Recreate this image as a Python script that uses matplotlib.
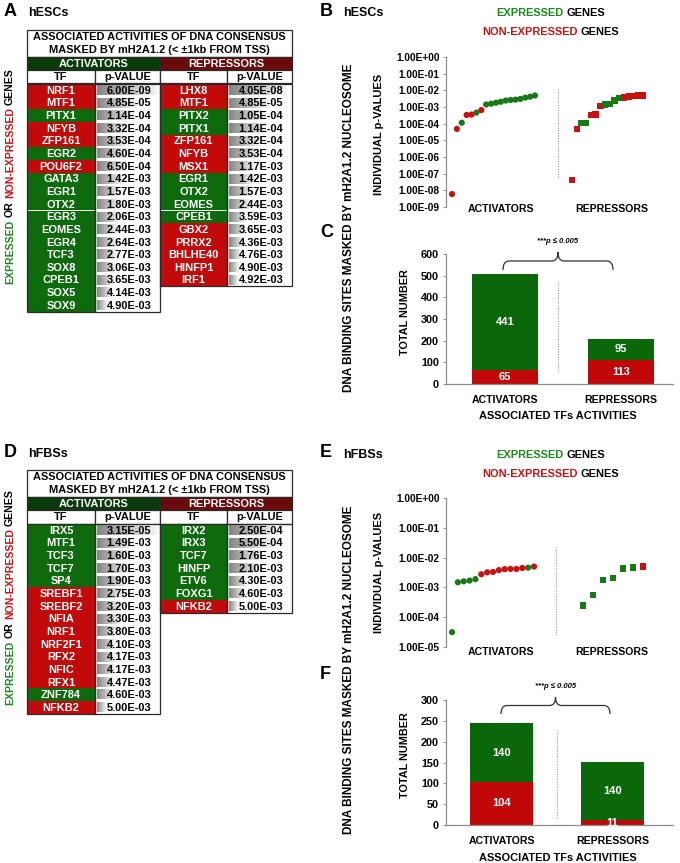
import numpy as np
import matplotlib
matplotlib.use("Agg")
import matplotlib.pyplot as plt
from matplotlib.patches import Rectangle, PathPatch
from matplotlib.path import Path
from matplotlib.colors import LinearSegmentedColormap
from matplotlib.ticker import NullLocator

plt.rcParams['font.family'] = ['Liberation Sans', 'DejaVu Sans']
plt.rcParams['font.weight'] = 'bold'

# ---------------- data ----------------
hesc_act_tf = ["NRF1", "MTF1", "PITX1", "NFYB", "ZFP161", "EGR2", "POU6F2", "GATA3", "EGR1",
               "OTX2", "EGR3", "EOMES", "EGR4", "TCF3", "SOX8", "CPEB1", "SOX5", "SOX9"]
hesc_act_p = [6.00e-09, 4.85e-05, 1.14e-04, 3.32e-04, 3.53e-04, 4.60e-04, 6.50e-04, 1.42e-03, 1.57e-03,
              1.80e-03, 2.06e-03, 2.44e-03, 2.64e-03, 2.77e-03, 3.06e-03, 3.65e-03, 4.14e-03, 4.90e-03]
hesc_act_expr = ["N", "N", "E", "N", "N", "E", "N", "E", "E", "E", "E", "E", "E", "E", "E", "E", "E", "E"]

hesc_rep_tf = ["LHX8", "MTF1", "PITX2", "PITX1", "ZFP161", "NFYB", "MSX1", "EGR1", "OTX2", "EOMES",
               "CPEB1", "GBX2", "PRRX2", "BHLHE40", "HINFP1", "IRF1"]
hesc_rep_p = [4.05e-08, 4.85e-05, 1.05e-04, 1.14e-04, 3.32e-04, 3.53e-04, 1.17e-03, 1.42e-03, 1.57e-03,
              2.44e-03, 3.59e-03, 3.65e-03, 4.36e-03, 4.76e-03, 4.90e-03, 4.92e-03]
hesc_rep_expr = ["N", "N", "E", "E", "N", "N", "N", "E", "E", "E", "E", "N", "N", "N", "N", "N"]

hfbs_act_tf = ["IRX5", "MTF1", "TCF3", "TCF7", "SP4", "SREBF1", "SREBF2", "NFIA", "NRF1", "NRF2F1",
               "RFX2", "NFIC", "RFX1", "ZNF784", "NFKB2"]
hfbs_act_p = [3.15e-05, 1.49e-03, 1.60e-03, 1.70e-03, 1.90e-03, 2.75e-03, 3.20e-03, 3.30e-03, 3.80e-03,
              4.10e-03, 4.17e-03, 4.17e-03, 4.47e-03, 4.60e-03, 5.00e-03]
hfbs_act_expr = ["E", "E", "E", "E", "E", "N", "N", "N", "N", "N", "N", "N", "N", "E", "N"]

hfbs_rep_tf = ["IRX2", "IRX3", "TCF7", "HINFP", "ETV6", "FOXG1", "NFKB2"]
hfbs_rep_p = [2.50e-04, 5.50e-04, 1.76e-03, 2.10e-03, 4.30e-03, 4.60e-03, 5.00e-03]
hfbs_rep_expr = ["E", "E", "E", "E", "E", "E", "N"]

bar_categories = ["ACTIVATORS", "REPRESSORS"]
hesc_bar_nonexpr = [65, 113]
hesc_bar_expr = [441, 95]
hfbs_bar_nonexpr = [104, 11]
hfbs_bar_expr = [140, 140]

hesc_scatter_yticks = [1e-09, 1e-08, 1e-07, 1e-06, 1e-05, 1e-04, 1e-03, 1e-02, 1e-01, 1e+00]
hfbs_scatter_yticks = [1e-05, 1e-04, 1e-03, 1e-02, 1e-01, 1e+00]
hesc_bar_yticks = [0, 100, 200, 300, 400, 500, 600]
hfbs_bar_yticks = [0, 50, 100, 150, 200, 250, 300]

# ---------------- styles ----------------
W, H = 680, 863
CELL_G, CELL_R = "#0d6a0d", "#c20a0a"
HDR_G, HDR_R = "#0a3a0a", "#6c0b0b"
PT_G, PT_R = "#177a17", "#c81212"
BAR_G, BAR_R = "#0a680a", "#c10808"
TXT_G, TXT_R = "#1a8a1a", "#d01010"
EDGE = "#2a2a2a"
GRAY = "#8c8c8c"
FS_CELL = 7.9

fig = plt.figure(figsize=(W / 100, H / 100), dpi=100)
fig.patch.set_facecolor("white")
ov = fig.add_axes([0, 0, 1, 1])
ov.set_xlim(0, W)
ov.set_ylim(H, 0)
ov.axis("off")
R = fig.canvas.get_renderer()


def px_axes(x0, x1, y0, y1):
    return fig.add_axes([x0 / W, 1 - y1 / H, (x1 - x0) / W, (y1 - y0) / H], facecolor="none")


def measure(s, **kw):
    t = ov.text(0, 0, s, **kw)
    w = t.get_window_extent(renderer=R).width
    t.remove()
    return w


def multicolor(x, y, parts, size, vertical=False):
    kw = dict(fontsize=size, fontweight="bold")
    full = "".join(p for p, _ in parts)
    total = measure(full, **kw)
    prefix = ""
    for s, c in parts:
        prefix += s
        st = measure(prefix.rstrip(), **kw) - measure(s.strip(), **kw)
        if not s.strip():
            continue
        if vertical:
            ov.text(x, y + total / 2 - st, s.strip(), color=c, rotation=90, rotation_mode="anchor",
                    ha="left", va="center", **kw)
        else:
            ov.text(x - total / 2 + st, y, s.strip(), color=c, ha="left", va="center", **kw)


grad = np.linspace(0, 1, 64).reshape(1, -1)
cmap_bar = LinearSegmentedColormap.from_list("db", ["#858585", "#f6f6f6"])


def draw_table(top, act_tf, act_p, act_expr, rep_tf, rep_p, rep_expr):
    xs = [27, 95, 160, 227, 292]
    mid = (xs[0] + xs[4]) / 2
    ov.add_patch(Rectangle((xs[0], top), xs[4] - xs[0], 27, fc="white", ec=EDGE, lw=0.9))
    ov.text(mid, top + 7.3, "ASSOCIATED ACTIVITIES OF DNA CONSENSUS", ha="center", va="center",
            fontsize=7.9, fontweight="bold")
    ov.text(mid, top + 20, "MASKED BY mH2A1.2 (< \u00b11kb FROM TSS)", ha="center", va="center",
            fontsize=7.9, fontweight="bold")
    ov.add_patch(Rectangle((xs[0], top + 27), xs[2] - xs[0], 13, fc=HDR_G, ec=EDGE, lw=0.9))
    ov.add_patch(Rectangle((xs[2], top + 27), xs[4] - xs[2], 13, fc=HDR_R, ec=EDGE, lw=0.9))
    ov.text((xs[0] + xs[2]) / 2, top + 33.8, "ACTIVATORS", color="white", ha="center", va="center",
            fontsize=FS_CELL, fontweight="bold")
    ov.text((xs[2] + xs[4]) / 2, top + 33.8, "REPRESSORS", color="white", ha="center", va="center",
            fontsize=FS_CELL, fontweight="bold")
    for i in range(4):
        ov.add_patch(Rectangle((xs[i], top + 40), xs[i + 1] - xs[i], 13.5, fc="white", ec=EDGE, lw=0.9))
        ov.text((xs[i] + xs[i + 1]) / 2, top + 47, ["TF", "p-VALUE"][i % 2], ha="center", va="center",
                fontsize=FS_CELL, fontweight="bold")
    rows_top = top + 54
    pitch = 12.65
    allp = list(act_p) + list(rep_p)
    smax = -np.log10(min(allp))
    smin = -np.log10(max(allp))
    for (tfs, ps, ex, xa, xb, xc) in [(act_tf, act_p, act_expr, xs[0], xs[1], xs[2]),
                                       (rep_tf, rep_p, rep_expr, xs[2], xs[3], xs[4])]:
        n = len(tfs)
        for i in range(n):
            y = rows_top + i * pitch
            ov.add_patch(Rectangle((xa, y), xb - xa, pitch, fc=CELL_G if ex[i] == "E" else CELL_R,
                                   ec="none", zorder=1))
            ov.text((xa + xb) / 2, y + pitch / 2 + 0.4, tfs[i], color="white", ha="center", va="center",
                    fontsize=FS_CELL, fontweight="bold", zorder=4)
            norm = (-np.log10(ps[i]) - smin) / (smax - smin)
            frac = 0.14 + 0.84 * np.sqrt(max(norm, 0))
            L = (xc - xb - 3) * frac
            ov.imshow(grad, cmap=cmap_bar, extent=(xb + 1.5, xb + 1.5 + L, y + pitch - 1.6, y + 1.6),
                      aspect="auto", interpolation="bilinear", zorder=2)
            ov.text((xb + xc) / 2 + 1.5, y + pitch / 2 + 0.4, f"{ps[i]:.2E}", color="black", ha="center",
                    va="center", fontsize=FS_CELL, fontweight="bold", zorder=4)
        ov.add_patch(Rectangle((xa, rows_top), xb - xa, n * pitch, fc="none", ec=EDGE, lw=0.9, zorder=3))
        ov.add_patch(Rectangle((xb, rows_top), xc - xb, n * pitch, fc="none", ec=EDGE, lw=0.9, zorder=3))
    ov.set_xlim(0, W)
    ov.set_ylim(H, 0)


def draw_scatter(box, yticks, act_p, act_expr, rep_p, rep_expr, act_span, rep_span, lab_x, xpad):
    ax = px_axes(*box)
    ax.set_yscale("log")
    ax.set_ylim(yticks[0], yticks[-1])
    ax.set_xlim(box[0], box[1])
    xa = np.linspace(act_span[0], act_span[1], len(act_p))
    xr = np.linspace(rep_span[0], rep_span[1], len(rep_p))
    ax.scatter(xa, act_p, s=20, marker="o", c=[PT_G if e == "E" else PT_R for e in act_expr],
               linewidths=0, zorder=3, clip_on=False)
    ax.scatter(xr, rep_p, s=21, marker="s", c=[PT_G if e == "E" else PT_R for e in rep_expr],
               linewidths=0, zorder=3, clip_on=False)
    ax.set_yticks(yticks)
    ax.set_yticklabels([f"{t:.2E}" for t in yticks], fontsize=7.3, fontweight="bold")
    ax.yaxis.set_minor_locator(NullLocator())
    ax.set_xticks(lab_x)
    ax.set_xticklabels(bar_categories, fontsize=7.6, fontweight="bold")
    ax.tick_params(axis="x", length=0, pad=xpad)
    ax.tick_params(axis="y", length=2, width=0.7, color=GRAY, pad=2.5)
    for s in ["top", "right", "bottom"]:
        ax.spines[s].set_visible(False)
    ax.spines["left"].set_color(GRAY)
    ax.spines["left"].set_linewidth(0.9)
    return ax


def draw_bars(box, xlim, yticks, nonexpr, expr):
    ax = px_axes(*box)
    x = np.arange(len(bar_categories))
    ax.bar(x, nonexpr, width=0.57, color=BAR_R, zorder=2)
    ax.bar(x, expr, width=0.57, bottom=nonexpr, color=BAR_G, zorder=2)
    for i in range(len(x)):
        ax.text(x[i], nonexpr[i] / 2, str(nonexpr[i]), color="white", ha="center", va="center",
                fontsize=8, fontweight="bold", zorder=3)
        ax.text(x[i], nonexpr[i] + expr[i] / 2, str(expr[i]), color="white", ha="center", va="center",
                fontsize=8, fontweight="bold", zorder=3)
    ax.set_xlim(*xlim)
    ax.set_ylim(yticks[0], yticks[-1])
    ax.set_yticks(yticks)
    ax.set_yticklabels([str(t) for t in yticks], fontsize=7.8, fontweight="bold")
    ax.set_xticks(x)
    ax.set_xticklabels(bar_categories, fontsize=7.6, fontweight="bold")
    ax.tick_params(axis="x", length=0, pad=8)
    ax.tick_params(axis="y", length=2, width=0.7, color=GRAY, pad=3)
    for s in ["top", "right"]:
        ax.spines[s].set_visible(False)
    for s in ["left", "bottom"]:
        ax.spines[s].set_color(GRAY)
        ax.spines[s].set_linewidth(0.9)
    return ax


def brace(x0, x1, yb, yt, r=6):
    xc = (x0 + x1) / 2
    ym = (yb + yt) / 2
    verts = [(x0, yb), (x0, ym), (x0 + r, ym), (xc - r, ym), (xc, ym), (xc, yt),
             (xc, ym), (xc + r, ym), (x1 - r, ym), (x1, ym), (x1, yb)]
    codes = [Path.MOVETO, Path.CURVE3, Path.CURVE3, Path.LINETO, Path.CURVE3, Path.CURVE3,
             Path.CURVE3, Path.CURVE3, Path.LINETO, Path.CURVE3, Path.CURVE3]
    ov.add_patch(PathPatch(Path(verts, codes), fc="none", ec="#333333", lw=0.9))
    ov.text(xc, yt - 11, "***p \u2264 0.005", ha="center", va="center", fontsize=5.5,
            fontweight="bold", fontstyle="italic")


def divider(x, y0, y1):
    ov.plot([x, x], [y0, y1], ls=(0, (1, 1.3)), color="#999999", lw=0.8)


# ---------------- panel letters / titles ----------------
for letter, x, y in [("A", 4, 11), ("B", 320, 11), ("C", 320, 232), ("D", 4, 452), ("E", 320, 452),
                     ("F", 320, 674)]:
    ov.text(x, y, letter, fontsize=13, fontweight="bold", ha="left", va="center")
for name, x, y in [("hESCs", 28, 13), ("hESCs", 343, 13), ("hFBSs", 28, 454), ("hFBSs", 343, 455)]:
    ov.text(x, y, name, fontsize=9, fontweight="bold", ha="left", va="center")

# ---------------- tables ----------------
draw_table(30, hesc_act_tf, hesc_act_p, hesc_act_expr, hesc_rep_tf, hesc_rep_p, hesc_rep_expr)
draw_table(470, hfbs_act_tf, hfbs_act_p, hfbs_act_expr, hfbs_rep_tf, hfbs_rep_p, hfbs_rep_expr)

side_parts = [("EXPRESSED", TXT_G), (" OR", "black"), (" NON-EXPRESSED", TXT_R), (" GENES", "black")]
multicolor(10, 176, side_parts, 7.6, vertical=True)
multicolor(10, 597, side_parts, 7.6, vertical=True)

# ---------------- legends ----------------
for y0 in [13, 455]:
    multicolor(551, y0, [("EXPRESSED", TXT_G), (" GENES", "black")], 7.9)
    multicolor(551, y0 + 19, [("NON-EXPRESSED", TXT_R), (" GENES", "black")], 7.9)

# ---------------- scatter panels ----------------
draw_scatter((446, 670, 57, 207), hesc_scatter_yticks, hesc_act_p, hesc_act_expr, hesc_rep_p,
             hesc_rep_expr, (452, 535), (572, 643), [501, 612], -2)
draw_scatter((446, 670, 498, 647), hfbs_scatter_yticks, hfbs_act_p, hfbs_act_expr, hfbs_rep_p,
             hfbs_rep_expr, (452, 534), (583, 643), [501, 612], 0)
divider(558, 89, 179)
divider(556, 547, 635)

# ---------------- bar panels ----------------
draw_bars((446, 673, 254, 384), (-0.509, 1.448), hesc_bar_yticks, hesc_bar_nonexpr, hesc_bar_expr)
draw_bars((446, 673, 700, 825), (-0.5, 1.545), hfbs_bar_yticks, hfbs_bar_nonexpr, hfbs_bar_expr)
divider(558, 282, 372)
divider(557, 730, 819)
brace(503, 613, 270, 252)
brace(501, 610, 714, 697)
ov.text(558, 416, "ASSOCIATED TFs ACTIVITIES", ha="center", va="center", fontsize=7.9, fontweight="bold")
ov.text(558, 858, "ASSOCIATED TFs ACTIVITIES", ha="center", va="center", fontsize=7.9, fontweight="bold")

# ---------------- axis titles ----------------
ov.text(379, 134, "INDIVIDUAL p-VALUES", rotation=90, ha="center", va="center", fontsize=8,
        fontweight="bold")
ov.text(379, 572, "INDIVIDUAL p-VALUES", rotation=90, ha="center", va="center", fontsize=8,
        fontweight="bold")
ov.text(405, 312, "TOTAL NUMBER", rotation=90, ha="center", va="center", fontsize=7.8, fontweight="bold")
ov.text(405, 755, "TOTAL NUMBER", rotation=90, ha="center", va="center", fontsize=7.8, fontweight="bold")
ov.text(349, 228, "DNA BINDING SITES MASKED BY mH2A1.2 NUCLEOSOME", rotation=90, ha="center",
        va="center", fontsize=8.5, fontweight="bold")
ov.text(349, 670, "DNA BINDING SITES MASKED BY mH2A1.2 NUCLEOSOME", rotation=90, ha="center",
        va="center", fontsize=8.5, fontweight="bold")

ov.set_xlim(0, W)
ov.set_ylim(H, 0)
fig.savefig("out.png", dpi=100, facecolor="white")
